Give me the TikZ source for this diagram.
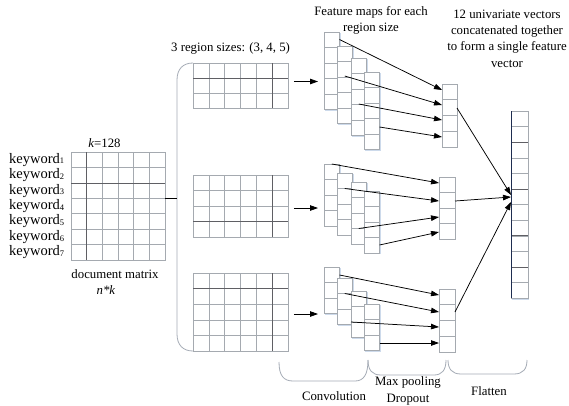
\documentclass[tikz,border=0pt]{standalone}
\usepackage{fontspec}
\setmainfont{Liberation Serif}
\usetikzlibrary{arrows.meta,calc}
\definecolor{gridc}{RGB}{165,170,176}
\definecolor{darkc}{RGB}{95,95,100}
\definecolor{shadc}{RGB}{205,218,235}
\definecolor{bracec}{RGB}{165,172,182}
\definecolor{navyc}{RGB}{30,45,80}
\tikzset{
  gridbox/.style={draw=gridc, fill=white, line width=0.6pt, inner sep=0pt, outer sep=0pt, anchor=north west},
  gridline/.style={draw=gridc, line width=0.6pt},
  darkline/.style={draw=darkc, line width=0.7pt},
  conn/.style={draw=black, line width=0.75pt, -{Triangle[length=8pt,width=5.5pt]}},
  plainconn/.style={draw=black, line width=0.75pt},
  bracel/.style={draw=bracec, line width=0.8pt},
  lbl/.style={inner sep=0pt, font=\fontsize{12.8}{16.4}\selectfont, align=center},
  kwl/.style={inner sep=0pt, anchor=west, font=\fontsize{14.5}{16}\selectfont},
}
% name, x, y, cols, rows, cell width, cell height
\newcommand\mygrid[7]{%
  \pgfmathsetmacro\mgw{#4*#6}\pgfmathsetmacro\mgh{#5*#7}%
  \fill[shadc] (#2+1.3,#3+1.3) rectangle ++(\mgw,\mgh);
  \node[gridbox,minimum width=\mgw pt,minimum height=\mgh pt] (#1) at (#2,#3) {};
  \pgfmathtruncatemacro\mgc{#4-1}\pgfmathtruncatemacro\mgr{#5-1}%
  \ifnum\mgc>0 \foreach \i in {1,...,\mgc}{\draw[gridline] ($(#1.north west)+(\i*#6,0)$) -- ++(0,\mgh);}\fi
  \ifnum\mgr>0 \foreach \j in {1,...,\mgr}{\draw[gridline] ($(#1.north west)+(0,\j*#7)$) -- ++(\mgw,0);}\fi
}
\newcommand\kwsub[1]{\raisebox{-0.8pt}{\fontsize{8.5}{9}\selectfont #1}}
\begin{document}
\begin{tikzpicture}[x=1pt,y=-1pt]
\useasboundingbox (0,0) rectangle (569,405);
\fill[white] (0,0) rectangle (569,405);

% document matrix
\mygrid{dm}{71}{152}{6}{7}{15.67}{15.43}
\draw[darkline] ($(dm.north west)+(15.67,0)$) -- ($(dm.south west)+(15.67,0)$);
\draw[darkline] ($(dm.north west)+(0,30.86)$) -- ($(dm.north east)+(0,30.86)$);
\foreach \k in {1,...,7}{
  \node[kwl] (kw\k) at (9,{152+15.43*(\k-0.5)}) {keyword\kwsub{\k}};
}
\node[lbl] (lk) at (104.5,143) {\textit{k}=128};
\node[lbl] (ldm) at (115,274) {document matrix};
\node[lbl] (lnk) at (106,290) {\textit{n*k}};

% region matrices
\mygrid{ra}{193}{63}{6}{3}{15.83}{15}
\draw[darkline] ($(ra.north west)+(0,15)$) -- ($(ra.north east)+(0,15)$);
\draw[darkline] ($(ra.north west)+(79.15,0)$) -- ($(ra.south west)+(79.15,0)$);
\mygrid{rb}{193}{175}{6}{4}{15.83}{15.5}
\draw[darkline] ($(rb.north west)+(0,46.5)$) -- ($(rb.north east)+(0,46.5)$);
\draw[darkline] ($(rb.north west)+(79.15,0)$) -- ($(rb.south west)+(79.15,0)$);
\mygrid{rc}{193}{273}{6}{5}{15.83}{15.6}
\draw[darkline] ($(rc.north west)+(0,15.6)$) -- ($(rc.north east)+(0,15.6)$);
\draw[darkline] ($(rc.north west)+(79.15,0)$) -- ($(rc.south west)+(79.15,0)$);
\node[lbl,anchor=west] (lreg) at (171,48) {3 region sizes: (3, 4, 5)};

% left brace
\coordinate (bt) at (ra.north west);
\coordinate (bb) at (rc.south west);
\coordinate (bmid) at (177,198);
\draw[bracel] (bt) .. controls (183,63) and (177,69) .. (177,80) -- (177,334) .. controls (177,345) and (183,351) .. (bb);
\draw[plainconn] (dm.north east |- bmid) -- (bmid);

% feature maps
\mygrid{fa1}{324}{32}{1}{5}{15.5}{15.5}
\mygrid{fa2}{337}{46}{1}{5}{15.5}{15.5}
\mygrid{fa3}{351}{58}{1}{5}{15.5}{15.5}
\mygrid{fa4}{364}{72}{1}{5}{15.5}{15.5}
\mygrid{fb1}{324}{164}{1}{4}{15.5}{15.5}
\mygrid{fb2}{337}{173}{1}{4}{15.5}{15.5}
\mygrid{fb3}{351}{182}{1}{4}{15.5}{15.5}
\mygrid{fb4}{364}{191}{1}{4}{15.5}{15.5}
\mygrid{fc1}{324}{267}{1}{3}{15.5}{15.5}
\mygrid{fc2}{337}{278}{1}{3}{15.5}{15.5}
\mygrid{fc3}{351}{291}{1}{3}{15.5}{15.5}
\mygrid{fc4}{364}{304}{1}{3}{15.5}{15.5}
\node[lbl] (lfeat) at (371,20.5) {Feature maps for each\\region size};

% arrows region -> feature maps
\draw[conn] ($(ra.east)+(6,-4)$) -- ($(fa1.west |- ra.east)+(-6,-4)$);
\draw[conn] ($(rb.east)+(6,2)$) -- ($(fb1.west |- rb.east)+(-6,2)$);
\draw[conn] ($(rc.east)+(6,2)$) -- ($(fc1.west |- rc.east)+(-6,2)$);

% pooled vectors
\mygrid{pa}{442}{84}{1}{4}{15}{15.75}
\mygrid{pb}{439}{177}{1}{4}{16}{15.5}
\mygrid{pc}{439}{289}{1}{4}{16}{15.75}

% feature maps -> pooled
\draw[conn] ($(fa1.north east)+(0,7.5)$) -- ($(pa.north west)+(0,6)$);
\draw[conn] ($(fa2.north)+(0,30)$) -- ($(pa.north west)+(0,21)$);
\draw[conn] ($(fa3.north)+(0,46)$) -- ($(pa.north west)+(0,36)$);
\draw[conn] ($(fa4.north east)+(0,55)$) -- ($(pa.north west)+(0,53)$);
\draw[conn] (fb1.north) -- ($(pb.north west)+(0,6)$);
\draw[conn] ($(fb2.north)+(0,15.5)$) -- ($(pb.north west)+(0,24)$);
\draw[conn] ($(fb3.north)+(0,46.5)$) -- ($(pb.north west)+(0,40)$);
\draw[conn] ($(fb4.north east)+(0,54)$) -- ($(pb.north west)+(0,55)$);
\draw[conn] ($(fc1.north east)+(0,8)$) -- ($(pc.north west)+(0,6)$);
\draw[conn] ($(fc2.north)+(0,15.5)$) -- ($(pc.north west)+(0,23)$);
\draw[conn] ($(fc3.north west)+(0,31)$) -- ($(pc.north west)+(0,38)$);
\draw[conn] ($(fc4.north east)+(0,39)$) -- ($(pc.north west)+(0,54)$);

% final vector
\mygrid{fv}{511}{111}{1}{12}{17}{15.6}
\foreach \r in {2,5,8,10}{\draw[darkline] ($(fv.north west)+(0,\r*15.6)$) -- ($(fv.north east)+(0,\r*15.6)$);}
\draw[navyc, line width=1pt] (fv.north west) -- (fv.south west);
\node[lbl] (lvec) at (507,38.5) {12 univariate vectors\\concatenated together\\to form a single feature\\vector};

% pooled -> final
\draw[conn] ($(pa.north east)+(0,24)$) -- ($(fv.north west)+(0,84)$);
\draw[conn] ($(pb.north east)+(0,24)$) -- ($(fv.north west)+(0,86)$);
\draw[conn] ($(pc.north east)+(0,23)$) -- ($(fv.north west)+(0,91)$);

% bottom braces
\draw[bracel] (279,362) .. controls (279,376) and (284,381) .. (293,381) -- (355,381) .. controls (364,381) and (368,374) .. (368,360);
\draw[bracel] (368,360) .. controls (368,370) and (372,375) .. (381,375) -- (434,375) .. controls (442,375) and (446,370) .. (446,360);
\draw[bracel] (448,360) .. controls (448,369) and (452,374) .. (461,374) -- (514,374) .. controls (523,374) and (527,369) .. (527,360);
\node[lbl] (lconv) at (334,396) {Convolution};
\node[lbl] (lmax) at (408,391) {Max pooling\\Dropout};
\node[lbl] (lflat) at (489,391) {Flatten};
\end{tikzpicture}
\end{document}
